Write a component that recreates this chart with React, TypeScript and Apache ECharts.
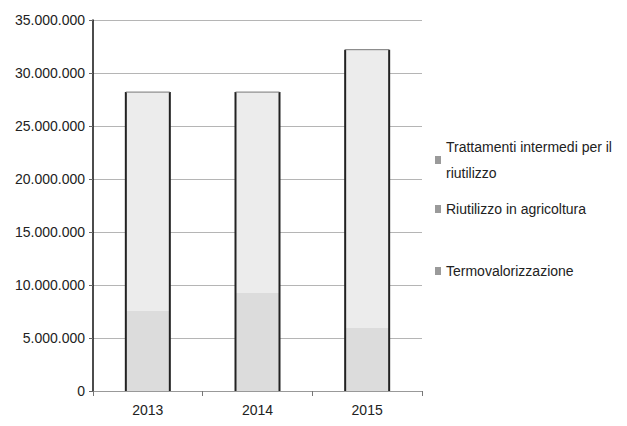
import React, { useEffect, useRef } from "react";
import * as echarts from "echarts";

const years = ["2013", "2014", "2015"];
const trattamenti = [20600000, 18950000, 26200000];
const riutilizzo = [7600000, 9250000, 6000000];
const termovalorizzazione = [0, 0, 0];
const yTicks = { min: 0, max: 35000000, interval: 5000000 };

const seriesNames = [
  "Trattamenti intermedi per il\nriutilizzo",
  "Riutilizzo in agricoltura",
  "Termovalorizzazione",
];

const fmt = (v: number) =>
  String(Math.round(v)).replace(/\B(?=(\d{3})+(?!\d))/g, ".");

export default function App() {
  const ref = useRef<HTMLDivElement>(null);
  useEffect(() => {
    if (!ref.current) return;
    document.body.style.margin = "0";
    const chart = echarts.init(ref.current, undefined, { renderer: "svg" });
    const totals = years.map(
      (_, i) => trattamenti[i] + riutilizzo[i] + termovalorizzazione[i]
    );
    const font = "Liberation Sans, Arial, sans-serif";
    const legendBase = {
      orient: "vertical",
      left: 430,
      itemWidth: 6,
      itemHeight: 8,
      icon: "rect",
      itemGap: 0,
      textStyle: { fontFamily: font, fontSize: 14, color: "#222" },
    };
    const legendItem = (name: string) => ({
      name,
      itemStyle: { color: "#9a9a9a" },
    });
    chart.setOption({
      animation: false,
      backgroundColor: "#fff",
      grid: { left: 93, right: 205, top: 20, bottom: 35 },
      legend: [
        {
          ...legendBase,
          top: 129,
          data: [legendItem(seriesNames[0])],
          textStyle: { ...legendBase.textStyle, lineHeight: 26 },
        },
        { ...legendBase, top: 197, data: [legendItem(seriesNames[1])] },
        { ...legendBase, top: 259, data: [legendItem(seriesNames[2])] },
      ],
      xAxis: {
        type: "category",
        data: years,
        axisLine: { lineStyle: { color: "#999", width: 1 } },
        axisTick: { show: true, length: 5, lineStyle: { color: "#777" } },
        axisLabel: {
          fontFamily: font,
          fontSize: 14,
          color: "#222",
          margin: 12,
        },
      },
      yAxis: {
        type: "value",
        min: yTicks.min,
        max: yTicks.max,
        interval: yTicks.interval,
        axisLine: { show: true, lineStyle: { color: "#111", width: 1.5 } },
        axisTick: { show: true, length: 4, lineStyle: { color: "#666" } },
        splitLine: { lineStyle: { color: "#b5b5b5", width: 1 } },
        axisLabel: {
          fontFamily: font,
          fontSize: 14,
          color: "#222",
          margin: 8,
          formatter: (v: number) => fmt(v),
        },
      },
      series: [
        {
          name: seriesNames[2],
          type: "bar",
          stack: "tot",
          barWidth: 44,
          data: termovalorizzazione,
          itemStyle: { color: "#bdbdbd" },
        },
        {
          name: seriesNames[1],
          type: "bar",
          stack: "tot",
          barWidth: 44,
          data: riutilizzo,
          itemStyle: { color: "#dcdcdc" },
        },
        {
          name: seriesNames[0],
          type: "bar",
          stack: "tot",
          barWidth: 44,
          data: trattamenti,
          itemStyle: { color: "#ececec" },
        },
        {
          type: "custom",
          silent: true,
          z: 5,
          data: years.map((_, i) => [i, totals[i]]),
          renderItem: (params: any, api: any) => {
            const idx = api.value(0);
            const total = api.value(1);
            const p0 = api.coord([idx, 0]);
            const p1 = api.coord([idx, total]);
            const half = 22;
            const ls = { stroke: "#222", lineWidth: 2 };
            return {
              type: "group",
              children: [
                {
                  type: "line",
                  shape: { x1: p0[0] - half, y1: p0[1], x2: p1[0] - half, y2: p1[1] },
                  style: ls,
                },
                {
                  type: "line",
                  shape: { x1: p0[0] + half, y1: p0[1], x2: p1[0] + half, y2: p1[1] },
                  style: ls,
                },
                {
                  type: "line",
                  shape: { x1: p1[0] - half, y1: p1[1], x2: p1[0] + half, y2: p1[1] },
                  style: { stroke: "#777", lineWidth: 1 },
                },
              ],
            };
          },
        },
      ],
    });
    return () => chart.dispose();
  }, []);
  return <div ref={ref} style={{ width: 627, height: 426 }} />;
}
